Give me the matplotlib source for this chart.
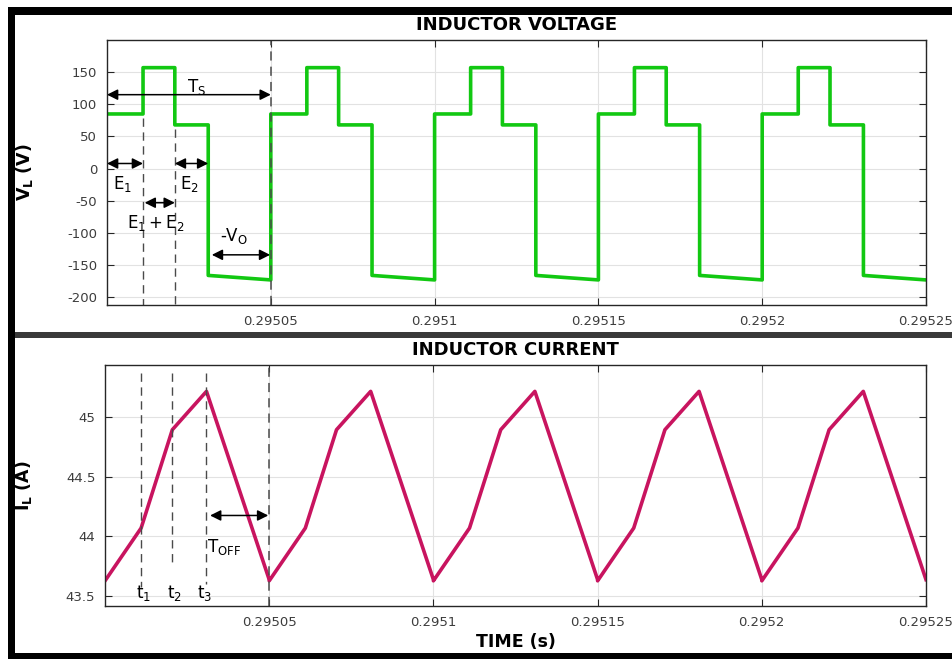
import matplotlib
matplotlib.use('Agg')
import matplotlib.pyplot as plt
from matplotlib.patches import Rectangle
import numpy as np

plt.rcParams['font.family'] = ['DejaVu Sans']
plt.rcParams['axes.unicode_minus'] = False

# one switching period, times in microseconds from start of period
period_starts = [0.295, 0.29505, 0.2951, 0.29515, 0.2952]
vl_t_us = [0, 11.0, 11.0, 20.7, 20.7, 30.9, 30.9, 50.0]
vl_volts = [85, 85, 157, 157, 68, 68, -166, -173]
il_t_us = [0, 11.0, 20.5, 30.9, 50.0]
il_amps = [43.63, 44.07, 44.89, 45.21, 43.64]

xticks = [0.29505, 0.2951, 0.29515, 0.2952, 0.29525]
xticklabels = ['0.29505', '0.2951', '0.29515', '0.2952', '0.29525']
vl_yticks = [-200, -150, -100, -50, 0, 50, 100, 150]
il_yticks = [43.5, 44, 44.5, 45]
il_yticklabels = ['43.5', '44', '44.5', '45']

t1, t2, t3, ts = 11.0e-6, 20.7e-6, 30.9e-6, 50e-6
t0 = 0.295

vl_t = np.concatenate([s + np.array(vl_t_us) * 1e-6 for s in period_starts])
vl_v = np.tile(vl_volts, len(period_starts))
il_t = np.concatenate([s + np.array(il_t_us) * 1e-6 for s in period_starts])
il_i = np.tile(il_amps, len(period_starts))

W, H = 953, 659
fig = plt.figure(figsize=(W / 100, H / 100), dpi=100)

def ax_px(left, top, right, bottom):
    return [left / W, 1 - bottom / H, (right - left) / W, (bottom - top) / H]

ax1 = fig.add_axes(ax_px(107, 40, 926, 305))
ax2 = fig.add_axes(ax_px(105, 365, 926, 606))

green = '#12c812'
magenta = '#c8145f'
dash_col = '#4a4a4a'
tick_col = '#3c3c3c'

def style(ax):
    ax.set_xlim(0.295, 0.29525)
    ax.set_xticks(xticks)
    ax.set_xticklabels(xticklabels)
    ax.grid(True, color='#e2e2e2', lw=0.8)
    ax.set_axisbelow(True)
    ax.tick_params(direction='in', top=True, right=True, length=5,
                   labelsize=9.5, labelcolor=tick_col, color='#262626', pad=7)
    for sp in ax.spines.values():
        sp.set_color('#262626')
        sp.set_linewidth(1.0)

arrow = dict(arrowstyle='<|-|>', color='black', lw=1.1, mutation_scale=16,
             shrinkA=0, shrinkB=0)

# ---- inductor voltage
style(ax1)
ax1.plot(vl_t, vl_v, color=green, lw=2.6)
ax1.set_ylim(-212, 200)
ax1.set_yticks(vl_yticks)
ax1.set_title('INDUCTOR VOLTAGE', fontsize=13, fontweight='bold', pad=7)
ax1.set_ylabel(r'$\mathbf{V_L}$ (V)', fontsize=12.5, fontweight='bold')
ax1.yaxis.set_label_coords(-0.088, 0.5)

ax1.axvline(t0 + ts, color=dash_col, lw=1.1, dashes=(6, 4))
ax1.plot([t0 + t1, t0 + t1], [78, -212], color=dash_col, lw=1.0, dashes=(6, 4))
ax1.plot([t0 + t2, t0 + t2], [62, -212], color=dash_col, lw=1.0, dashes=(6, 4))

ax1.annotate('', xy=(t0, 115), xytext=(t0 + ts, 115), arrowprops=arrow)
ax1.text(t0 + 24.4e-6, 119, r'$\mathrm{T_S}$', fontsize=12, va='baseline')
ax1.annotate('', xy=(t0, 8), xytext=(t0 + t1, 8), arrowprops=arrow)
ax1.text(t0 + 1.8e-6, -32, r'$\mathrm{E_1}$', fontsize=12, va='baseline')
ax1.annotate('', xy=(t0 + t2, 8), xytext=(t0 + t3, 8), arrowprops=arrow)
ax1.text(t0 + 22.3e-6, -32, r'$\mathrm{E_2}$', fontsize=12, va='baseline')
ax1.annotate('', xy=(t0 + t1 + 0.5e-6, -53), xytext=(t0 + t2, -53), arrowprops=arrow)
ax1.text(t0 + 6.0e-6, -92, r'$\mathrm{E_1 + E_2}$', fontsize=12, va='baseline')
ax1.annotate('', xy=(t0 + 32e-6, -134), xytext=(t0 + 49.8e-6, -134), arrowprops=arrow)
ax1.text(t0 + 34.5e-6, -113, r'-$\mathrm{V_O}$', fontsize=12, va='baseline')

# ---- inductor current
style(ax2)
ax2.plot(il_t, il_i, color=magenta, lw=2.6)
ax2.set_ylim(43.42, 45.43)
ax2.set_yticks(il_yticks)
ax2.set_yticklabels(il_yticklabels)
ax2.set_title('INDUCTOR CURRENT', fontsize=13, fontweight='bold', pad=7)
ax2.set_ylabel(r'$\mathbf{I_L}$ (A)', fontsize=12.5, fontweight='bold')
ax2.yaxis.set_label_coords(-0.086, 0.5)
ax2.set_xlabel('TIME (s)', fontsize=12.5, fontweight='bold', labelpad=3)

ax2.axvline(t0 + ts, color=dash_col, lw=1.1, dashes=(6, 4))
ax2.plot([t0 + t1, t0 + t1], [45.36, 43.58], color=dash_col, lw=1.0, dashes=(6, 4))
ax2.plot([t0 + 20.5e-6, t0 + 20.5e-6], [45.36, 43.75], color=dash_col, lw=1.0, dashes=(6, 4))
ax2.plot([t0 + t3, t0 + t3], [45.36, 43.6], color=dash_col, lw=1.0, dashes=(6, 4))

ax2.text(t0 + 9.4e-6, 43.49, r'$\mathrm{t_1}$', fontsize=12, va='baseline')
ax2.text(t0 + 18.8e-6, 43.49, r'$\mathrm{t_2}$', fontsize=12, va='baseline')
ax2.text(t0 + 27.9e-6, 43.49, r'$\mathrm{t_3}$', fontsize=12, va='baseline')
ax2.annotate('', xy=(t0 + 32e-6, 44.175), xytext=(t0 + 49.7e-6, 44.175), arrowprops=arrow)
ax2.text(t0 + 31.1e-6, 43.87, r'$\mathrm{T_{OFF}}$', fontsize=12, va='baseline')

# ---- frame around the figure
def px_rect(x, y, w, h, color):
    fig.add_artist(Rectangle((x / W, 1 - (y + h) / H), w / W, h / H,
                             transform=fig.transFigure, color=color, lw=0))

px_rect(8, 7, W - 8, 8, 'black')
px_rect(8, 7, 7, H - 7, 'black')
px_rect(8, 653, W - 8, 6, 'black')
px_rect(15, 332, W - 15, 6, '#3a3a3a')

fig.savefig('out.png', dpi=100)
